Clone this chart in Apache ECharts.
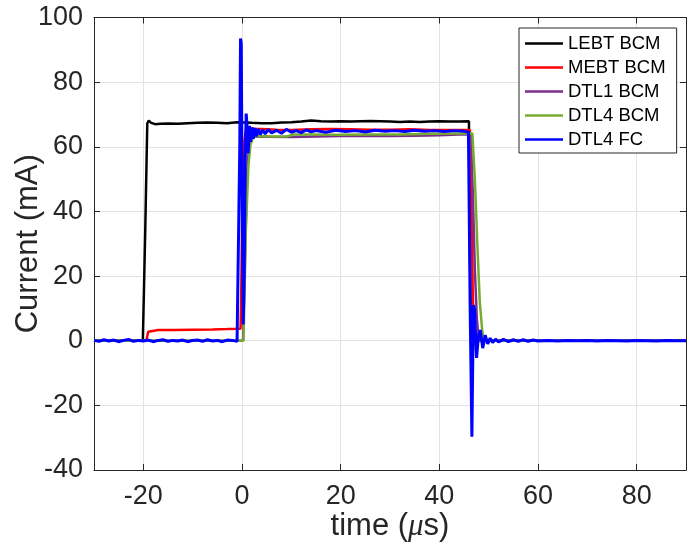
<!DOCTYPE html>
<html>
<head>
<meta charset="utf-8">
<script src="https://cdn.jsdelivr.net/npm/echarts@6/dist/echarts.min.js"></script>
<style>html,body{margin:0;padding:0;background:#fff}#c{width:699px;height:555px}</style>
</head>
<body>
<div id="c"></div>
<script>
// ---- data ----
const seriesNames = ['LEBT BCM', 'MEBT BCM', 'DTL1 BCM', 'DTL4 BCM', 'DTL4 FC'];
const xTicks = [-20, 0, 20, 40, 60, 80];
const yTicks = [-40, -20, 0, 20, 40, 60, 80, 100];

const lebtT = [-30, -20.1, -19.6, -19.2, -18.9, -18.4, -17.6, -16.5, -15, -13, -11, -9, -7, -5, -3, -1, 0.5, 2, 4, 6, 8, 10, 12, 14, 16, 18, 20, 22, 24, 26, 28, 30, 32, 34, 36, 38, 40, 42, 44, 46.0, 46.2, 46.4, 46.7, 90];
const lebtI = [0, 0, 35, 67.2, 68.1, 67.4, 67.0, 67.1, 67.2, 67.1, 67.3, 67.4, 67.5, 67.4, 67.3, 67.6, 67.5, 67.4, 67.3, 67.3, 67.5, 67.6, 67.8, 68.1, 67.9, 67.8, 67.9, 67.8, 67.9, 68.0, 67.9, 67.8, 67.7, 67.8, 67.7, 67.8, 67.9, 67.8, 67.8, 67.9, 30, 2, 0, 0];

const mebtT = [-30, -19.4, -19.0, -18.7, -17, -14, -10, -6, -3, -0.3, -0.2, 0.1, 0.5, 0.9, 1.5, 2.5, 4, 7, 10, 14, 18, 22, 26, 30, 34, 38, 42, 46.2, 46.5, 46.8, 47.1, 47.4, 90];
const mebtI = [0, 0, 2.8, 3.2, 3.3, 3.3, 3.4, 3.5, 3.6, 3.7, 10, 45, 62, 66.2, 65.8, 65.6, 65.5, 65.3, 65.2, 65.4, 65.5, 65.4, 65.3, 65.3, 65.4, 65.2, 65.2, 65.2, 45, 12, 2, 0, 0];

const dtl1T = [-30, 0.2, 0.6, 1.0, 1.4, 1.9, 2.5, 5, 10, 15, 20, 25, 30, 35, 40, 44, 46.4, 46.8, 47.2, 47.6, 48.0, 90];
const dtl1I = [0, 0, 25, 50, 60, 63, 63.2, 63.1, 63.0, 63.2, 63.3, 63.4, 63.3, 63.4, 63.6, 63.8, 63.8, 45, 22, 7, 0, 0];

const dtl4T = [-30, 0.3, 0.8, 1.3, 1.7, 2.2, 3, 6, 9, 10.5, 14, 20, 26, 32, 38, 44, 46.7, 47.2, 47.7, 48.2, 48.7, 49.1, 90];
const dtl4I = [0, 0, 35, 54, 60.5, 62.8, 63.3, 63.2, 63.2, 63.8, 63.8, 63.7, 63.8, 63.8, 64.0, 64.1, 64.1, 50, 30, 12, 3, 0, 0];

const fcT = [-30, -29, -28, -27, -26, -25, -24, -23, -22, -21, -20, -19, -18, -17, -16, -15, -14, -13, -12, -11, -10, -9, -8, -7, -6, -5, -4, -3, -2, -1, -0.7,
  -0.45, -0.3, -0.15, 0.05, 0.25, 0.45, 0.65, 0.85, 1.05, 1.25, 1.5, 1.75, 2.0, 2.3, 2.6, 2.9, 3.3, 3.7, 4.2, 4.7, 5.3, 6, 7, 8, 9, 10, 11, 12, 13, 14, 15, 17, 19, 21, 23, 25, 27, 29, 31, 33, 35, 37, 39, 41, 43, 45, 45.9,
  46.25, 46.6, 46.9, 47.1, 47.55, 47.9, 48.3, 48.8, 49.3, 49.8, 50.3, 50.8, 51.4, 52, 53, 54, 55, 56, 57, 58, 59, 60, 62, 64, 66, 68, 70, 72, 74, 76, 78, 80, 82, 84, 86, 88, 90];
const fcI = [0.1, -0.2, 0.3, -0.1, 0.2, -0.3, 0.1, 0.4, -0.2, 0.1, -0.1, 0.2, -0.3, 0.1, 0.3, -0.2, 0.1, -0.1, 0.2, -0.3, 0.1, 0.2, -0.2, 0.3, -0.1, 0.1, -0.3, 0.2, 0.1, -0.2, 0.2,
  60, 93.5, 92, 40, 5, 20, 55, 70.3, 66, 58, 66.5, 61.5, 66, 62.5, 65.8, 63.2, 65.5, 63.8, 65.2, 64.0, 65.3, 64.3, 65.1, 64.2, 65.4, 64.5, 65.0, 64.4, 65.2, 64.6, 65.0, 64.5, 65.1, 64.7, 65.0, 64.6, 65.1, 64.8, 65.0, 64.7, 65.1, 64.8, 65.0, 64.7, 65.0, 64.8, 64.6,
  10, -29.7, 11, 10, -5.3, 1, 3.3, -2.3, 1.7, -1.0, 0.8, -0.6, 0.5, -0.4, 0.4, -0.3, 0.3, -0.2, 0.3, -0.2, 0.2, -0.1, 0.1, -0.1, 0.1, 0, 0.1, -0.1, 0.1, 0, -0.1, 0.1, 0, -0.1, 0.1, 0, 0];

const colors = ['#000000', '#FF0000', '#7E2F8E', '#77AC30', '#0000FF'];
const seriesT = [lebtT, mebtT, dtl1T, dtl4T, fcT];
const seriesI = [lebtI, mebtI, dtl1I, dtl4I, fcI];

// ---- chart ----
const FONT = '"Liberation Sans", Arial, Helvetica, sans-serif';
const TXT = '#262626';
const chart = echarts.init(document.getElementById('c'), null, {renderer: 'canvas'});

const baseX = {
  type: 'value', min: -30, max: 90, splitNumber: 6,
  axisLine: {show: true, onZero: false, lineStyle: {color: TXT, width: 1}},
  axisTick: {show: true, inside: true, length: 6, lineStyle: {color: TXT}},
};
const baseY = {
  type: 'value', min: -40, max: 100, interval: 20,
  axisLine: {show: true, onZero: false, lineStyle: {color: TXT, width: 1}},
  axisTick: {show: true, inside: true, length: 6, lineStyle: {color: TXT}},
};

chart.setOption({
  animation: false,
  backgroundColor: '#ffffff',
  grid: {left: 94, right: 13, top: 17.5, bottom: 85, containLabel: false, outerBoundsMode: 'none'},
  xAxis: [
    Object.assign({}, baseX, {
      position: 'bottom',
      axisLabel: {show: true, fontSize: 27, fontFamily: FONT, color: TXT, margin: 13,
        showMinLabel: false, showMaxLabel: false,
        formatter: v => (xTicks.indexOf(v) >= 0 ? String(v) : '')},
      splitLine: {show: true, lineStyle: {color: '#e3e3e3', width: 1}},
      name: '{a|time (}{m|\u03bc}{a|s)}',
      nameLocation: 'middle', nameGap: 41, nameMoveOverlap: false,
      nameTextStyle: {rich: {
        a: {fontSize: 31, fontFamily: FONT, color: TXT},
        m: {fontSize: 31, fontFamily: '"Liberation Serif", serif', fontStyle: 'italic', color: TXT}
      }}
    }),
    Object.assign({}, baseX, {
      position: 'top', axisLabel: {show: false}, splitLine: {show: false}
    })
  ],
  yAxis: [
    Object.assign({}, baseY, {
      position: 'left',
      axisLabel: {show: true, fontSize: 27, fontFamily: FONT, color: TXT, margin: 11,
        formatter: v => (yTicks.indexOf(v) >= 0 ? String(v) : '')},
      splitLine: {show: true, lineStyle: {color: '#e3e3e3', width: 1}},
      name: 'Current (mA)', nameLocation: 'middle', nameGap: 50, nameMoveOverlap: false,
      nameTextStyle: {fontSize: 31, fontFamily: FONT, color: TXT}
    }),
    Object.assign({}, baseY, {
      position: 'right', axisLabel: {show: false}, splitLine: {show: false}
    })
  ],
  legend: {
    orient: 'vertical', left: 519, top: 28,
    data: seriesNames,
    icon: 'rect', itemWidth: 38, itemHeight: 2.5, itemGap: 5,
    padding: [6, 11, 4, 6],
    backgroundColor: '#ffffff',
    borderColor: '#262626', borderWidth: 1, borderRadius: 0,
    textStyle: {fontSize: 18.5, fontFamily: FONT, color: '#000', lineHeight: 18, padding: [0, 0, 0, 0]},
    selectedMode: false
  },
  series: seriesNames.map((n, k) => ({
    name: n, type: 'line', xAxisIndex: 0, yAxisIndex: 0,
    showSymbol: false, symbol: 'none',
    color: colors[k],
    lineStyle: {color: colors[k], width: k === 4 ? 3 : 2.5},
    data: seriesT[k].map((t, i) => [t, seriesI[k][i]]),
    z: 2 + k
  }))
});
</script>
</body>
</html>
